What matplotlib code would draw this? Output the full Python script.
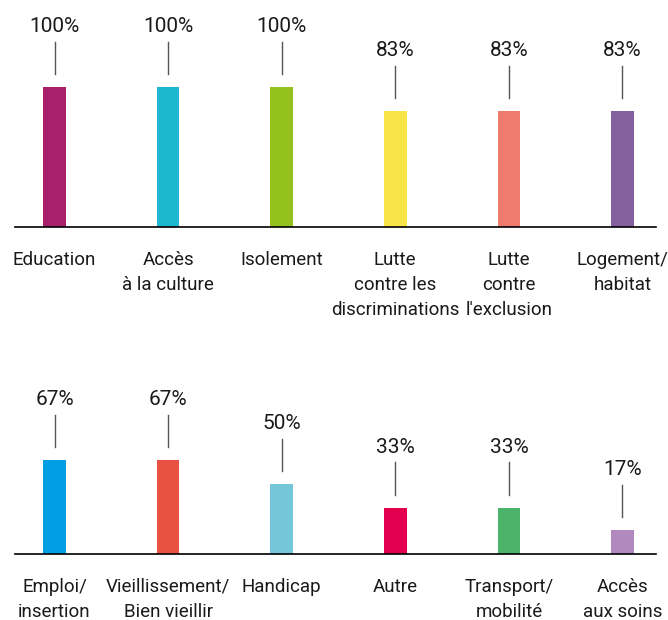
import matplotlib.pyplot as plt

plt.rcParams['font.family'] = ['Roboto', 'DejaVu Sans']

# Data
top_labels = ["Education", "Accès\nà la culture", "Isolement",
              "Lutte\ncontre les\ndiscriminations", "Lutte\ncontre\nl'exclusion",
              "Logement/\nhabitat"]
top_values = [100, 100, 100, 83, 83, 83]
top_colors = ["#A8206A", "#1DB8D0", "#95C11F", "#F9E547", "#EE7B6D", "#85609F"]

bottom_labels = ["Emploi/\ninsertion", "Vieillissement/\nBien vieillir", "Handicap",
                 "Autre", "Transport/\nmobilité", "Accès\naux soins"]
bottom_values = [67, 67, 50, 33, 33, 17]
bottom_colors = ["#009FE3", "#E95240", "#74C6D9", "#E2004F", "#4CB36B", "#B189BE"]

W, H = 668, 620
fig = plt.figure(figsize=(W / 100, H / 100), dpi=100)

px_per_unit = 1.397      # pixels per percent
ytop = 165
left, right = 15 / W, 656 / W


def draw_row(baseline_px, labels, values, colors):
    h = ytop * px_per_unit
    ax = fig.add_axes([left, 1 - baseline_px / H, right - left, h / H])
    x = list(range(len(values)))
    ax.bar(x, values, width=0.2, color=colors)
    for xi, v in zip(x, values):
        ax.plot([xi, xi], [v + 9.5, v + 32.5], color="#555555", lw=1)
        ax.text(xi, v + 39.6, f"{v}%", ha="center", va="baseline",
                fontsize=15, color="#1a1a1a")
    ax.set_xlim(-0.348, 5.295)
    ax.set_ylim(0, ytop)
    ax.set_xticks(x)
    ax.set_xticklabels(labels, fontsize=13.5, linespacing=1.5, color="#1a1a1a")
    ax.tick_params(axis="x", length=0, pad=17)
    ax.set_yticks([])
    for s in ["top", "left", "right"]:
        ax.spines[s].set_visible(False)
    ax.spines["bottom"].set_linewidth(1.2)
    ax.patch.set_alpha(0)


draw_row(227, top_labels, top_values, top_colors)
draw_row(554, bottom_labels, bottom_values, bottom_colors)

fig.savefig("out.png", dpi=100)
